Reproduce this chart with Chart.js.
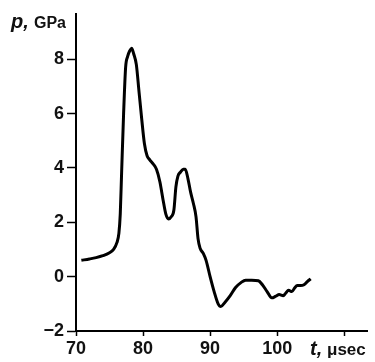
<!DOCTYPE html>
<html>
<head>
<meta charset="utf-8">
<script src="https://cdn.jsdelivr.net/npm/chart.js@4"></script>
<style>
  html, body { margin: 0; padding: 0; background: #fff; }
  #wrap { width: 375px; height: 362px; }
</style>
</head>
<body>
<div id="wrap"><canvas id="chartLine"></canvas></div>
<script>
// time, microseconds
const tValues = [70.8, 72, 73, 74, 75, 75.6, 76.1, 76.4, 76.6, 76.8, 77.1, 77.4, 77.7, 78.0, 78.3, 78.6,
    79.0, 79.4, 79.8, 80.2, 80.6, 81.0, 81.5, 82.0, 82.5, 83.0, 83.4, 83.8, 84.2, 84.6, 84.9, 85.2,
    85.6, 86.0, 86.3, 86.7, 87.1, 87.5, 87.9, 88.2, 88.5, 89.0, 89.4, 90.0, 90.6, 91.2, 91.6, 92.2,
    93.0, 93.8, 94.6, 95.3, 96.2, 97.2, 97.8, 98.5, 99.2, 99.8, 100.3, 100.9, 101.3, 101.7, 102.2,
    102.6, 103.0, 103.5, 104.0, 104.5, 105.0];
// pressure, GPa
const pValues = [0.6, 0.65, 0.7, 0.77, 0.88, 1.0, 1.25, 1.6, 2.3, 3.8, 6.0, 7.7, 8.1, 8.3, 8.4, 8.2,
    7.8, 6.8, 5.8, 4.9, 4.45, 4.3, 4.15, 3.95, 3.5, 2.8, 2.3, 2.12, 2.2, 2.45, 3.3, 3.7,
    3.85, 3.95, 3.95, 3.6, 3.1, 2.7, 2.2, 1.4, 1.05, 0.85, 0.6, 0.0, -0.55, -1.0, -1.1, -0.95,
    -0.7, -0.4, -0.22, -0.13, -0.13, -0.15, -0.3, -0.55, -0.78, -0.72, -0.66, -0.7, -0.6, -0.5, -0.55,
    -0.42, -0.33, -0.33, -0.3, -0.18, -0.08];

const xTicks = [70, 80, 90, 100, 110];
const xTickLabels = ["70", "80", "90", "100", ""];
const yTickLabels = {"-2": "\u22122", "0": "0", "2": "2", "4": "4", "6": "6", "8": "8"};

const points = tValues.map((t, i) => ({x: t, y: pValues[i]}));

const tickFont = {family: "'Liberation Sans', Arial, sans-serif", size: 18, weight: "bold"};

// axis titles drawn as text on the canvas
const axisTitles = {
    id: "axisTitles",
    afterDraw(chart) {
        const ctx = chart.ctx;
        ctx.save();
        ctx.fillStyle = "#111";
        ctx.textBaseline = "alphabetic";
        ctx.textAlign = "left";
        ctx.font = "italic bold 20px 'Liberation Sans', Arial, sans-serif";
        ctx.fillText("p,", 11, 28);
        ctx.font = "bold 16px 'Liberation Sans', Arial, sans-serif";
        ctx.fillText("GPa", 34, 28);
        ctx.font = "italic bold 20px 'Liberation Sans', Arial, sans-serif";
        ctx.fillText("t,", 310, 355);
        ctx.font = "bold 17px 'Liberation Sans', Arial, sans-serif";
        ctx.fillText("\u03bcsec", 327, 355);
        ctx.restore();
    }
};

const configLineChart = {
    type: "line",
    data: {
        datasets: [{
            data: points,
            borderColor: "#000",
            borderWidth: 3,
            pointRadius: 0,
            fill: false,
            cubicInterpolationMode: "monotone",
        }]
    },
    options: {
        responsive: true,
        maintainAspectRatio: false,
        animation: false,
        layout: {padding: {top: 12, right: 8, left: 0, bottom: 0}},
        plugins: {legend: {display: false}, tooltip: {enabled: false}},
        scales: {
            x: {
                type: "linear",
                min: 70,
                max: 113.4,
                afterFit(scale) { scale.height = 31; },
                afterBuildTicks(scale) { scale.ticks = xTicks.map(v => ({value: v})); },
                ticks: {
                    autoSkip: false,
                    maxRotation: 0,
                    padding: 2,
                    color: "#111",
                    font: tickFont,
                    callback: (v) => xTickLabels[xTicks.indexOf(v)],
                },
                grid: {drawOnChartArea: false, drawTicks: true, tickLength: 5, tickColor: "#000", tickWidth: 1.5},
                border: {display: true, color: "#000", width: 2},
            },
            y: {
                min: -2,
                max: 9.67,
                afterFit(scale) { scale.width = 76; },
                ticks: {
                    stepSize: 2,
                    includeBounds: false,
                    padding: 3,
                    color: "#111",
                    font: tickFont,
                    callback: (v) => yTickLabels[String(v)],
                },
                grid: {drawOnChartArea: false, drawTicks: true, tickLength: 9, tickColor: "#000", tickWidth: 1.5},
                border: {display: true, color: "#000", width: 2},
            }
        }
    },
    plugins: [axisTitles]
};

var chartLine = new Chart(
    document.getElementById("chartLine"),
    configLineChart
);
</script>
</body>
</html>
